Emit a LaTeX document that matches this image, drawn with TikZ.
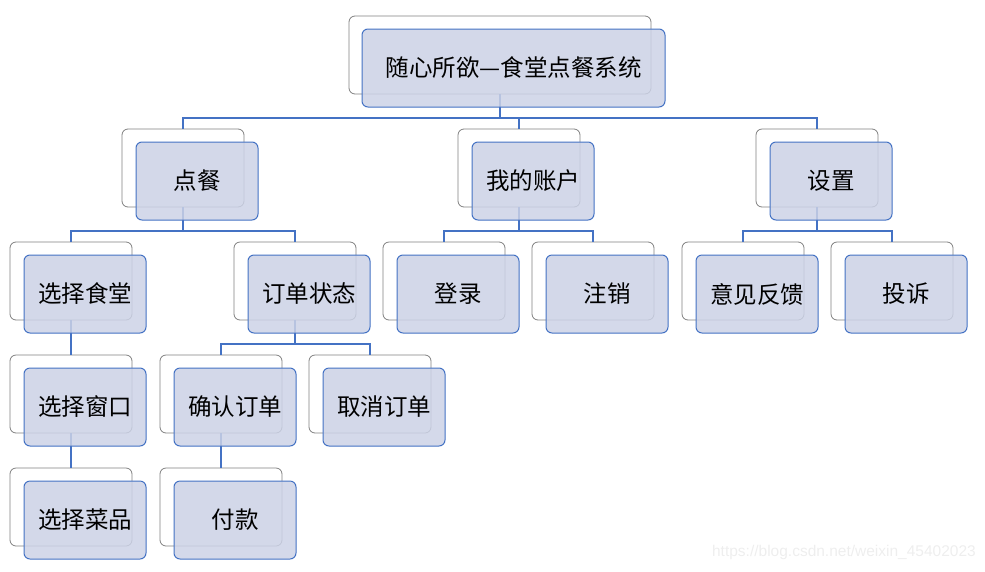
\documentclass[tikz,border=0pt]{standalone}
\usepackage{fontspec}
\newfontfamily\cjk{Noto Sans CJK SC}
\setsansfont{Liberation Sans}

\definecolor{boxblue}{RGB}{204,210,230}
\definecolor{lineblue}{RGB}{68,114,196}
\definecolor{shadowgray}{RGB}{128,128,128}
\definecolor{markgray}{RGB}{238,238,238}

\tikzset{
  backbox/.style={rectangle, rounded corners=6pt, draw=shadowgray, line width=0.8pt,
    fill=white, minimum width=122pt, minimum height=78pt, inner sep=0pt},
  frontbox/.style={rectangle, rounded corners=6pt, draw=lineblue, line width=1pt,
    fill=boxblue, fill opacity=0.85, text opacity=1, minimum width=122pt,
    minimum height=78pt, inner sep=0pt, font=\cjk\fontsize{23.5}{27}\selectfont},
  link/.style={draw=lineblue, line width=2pt}
}

\begin{document}
\begin{tikzpicture}[x=1pt, y=-1pt]
    \useasboundingbox (0,0) rectangle (985,571);

    % Back boxes
    \node[backbox, minimum width=302pt] (rootB) at (500,55) {};
    \node[backbox] (dcB) at (183,168) {};
    \node[backbox] (zhB) at (519,168) {};
    \node[backbox] (szB) at (817,168) {};
    \node[backbox] (xstB) at (71,281) {};
    \node[backbox] (ddztB) at (295,281) {};
    \node[backbox] (dlB) at (444,281) {};
    \node[backbox] (zxB) at (593,281) {};
    \node[backbox] (yjB) at (743,281) {};
    \node[backbox] (tsB) at (892,281) {};
    \node[backbox] (xckB) at (71,394) {};
    \node[backbox] (qrB) at (221,394) {};
    \node[backbox] (qxB) at (370,394) {};
    \node[backbox] (xcpB) at (71,507) {};
    \node[backbox] (fkB) at (221,507) {};

    % Connectors
    \draw[link] (rootB.south) |- ([yshift=11pt]dcB.north) -- (dcB.north);
    \draw[link] (rootB.south) |- ([yshift=11pt]zhB.north) -- (zhB.north);
    \draw[link] (rootB.south) |- ([yshift=11pt]szB.north) -- (szB.north);
    \draw[link] (dcB.south) |- ([yshift=11pt]xstB.north) -- (xstB.north);
    \draw[link] (dcB.south) |- ([yshift=11pt]ddztB.north) -- (ddztB.north);
    \draw[link] (zhB.south) |- ([yshift=11pt]dlB.north) -- (dlB.north);
    \draw[link] (zhB.south) |- ([yshift=11pt]zxB.north) -- (zxB.north);
    \draw[link] (szB.south) |- ([yshift=11pt]yjB.north) -- (yjB.north);
    \draw[link] (szB.south) |- ([yshift=11pt]tsB.north) -- (tsB.north);
    \draw[link] (xstB.south) -- (xckB.north);
    \draw[link] (xckB.south) -- (xcpB.north);
    \draw[link] (ddztB.south) |- ([yshift=11pt]qrB.north) -- (qrB.north);
    \draw[link] (ddztB.south) |- ([yshift=11pt]qxB.north) -- (qxB.north);
    \draw[link] (qrB.south) -- (fkB.north);

    % Front boxes
    \node[frontbox, minimum width=303pt] (root) at ([shift={(13.5,13)}]rootB.center) {随心所欲—食堂点餐系统};
    \node[frontbox] (dc) at ([shift={(14,13)}]dcB.center) {点餐};
    \node[frontbox] (zh) at ([shift={(14,13)}]zhB.center) {我的账户};
    \node[frontbox] (sz) at ([shift={(14,13)}]szB.center) {设置};
    \node[frontbox] (xst) at ([shift={(14,13)}]xstB.center) {选择食堂};
    \node[frontbox] (ddzt) at ([shift={(14,13)}]ddztB.center) {订单状态};
    \node[frontbox] (dl) at ([shift={(14,13)}]dlB.center) {登录};
    \node[frontbox] (zx) at ([shift={(14,13)}]zxB.center) {注销};
    \node[frontbox] (yj) at ([shift={(14,13)}]yjB.center) {意见反馈};
    \node[frontbox] (ts) at ([shift={(14,13)}]tsB.center) {投诉};
    \node[frontbox] (xck) at ([shift={(14,13)}]xckB.center) {选择窗口};
    \node[frontbox] (qr) at ([shift={(14,13)}]qrB.center) {确认订单};
    \node[frontbox] (qx) at ([shift={(14,13)}]qxB.center) {取消订单};
    \node[frontbox] (xcp) at ([shift={(14,13)}]xcpB.center) {选择菜品};
    \node[frontbox] (fk) at ([shift={(14,13)}]fkB.center) {付款};

    % Watermark
    \node[anchor=east, text=markgray, font=\sffamily\fontsize{15.5}{18}\selectfont, inner sep=0pt] (mark) at (976,552) {https://blog.csdn.net/weixin\_45402023};
\end{tikzpicture}
\end{document}
